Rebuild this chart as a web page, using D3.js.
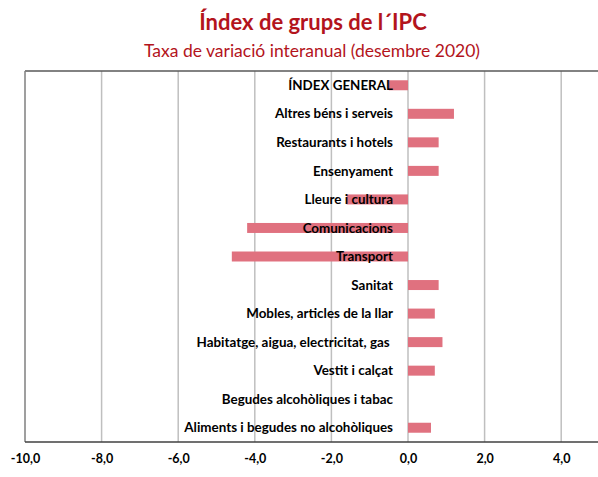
<!DOCTYPE html>
<html>
<head>
<meta charset="utf-8">
<script src="https://cdn.jsdelivr.net/npm/d3@7"></script>
<style>
  body { margin: 0; background: #fff; }
  text { font-family: Lato, "Open Sans", sans-serif; }
</style>
</head>
<body>
<svg id="chart" width="598" height="477"></svg>
<script>
// categories, top to bottom as in the chart
var categories = [
  "ÍNDEX GENERAL",
  "Altres béns i serveis",
  "Restaurants i hotels",
  "Ensenyament",
  "Lleure i cultura",
  "Comunicacions",
  "Transport",
  "Sanitat",
  "Mobles, articles de la llar",
  "Habitatge, aigua, electricitat, gas\u00a0",
  "Vestit i calçat",
  "Begudes alcohòliques i tabac",
  "Aliments i begudes no alcohòliques"
];
var values = [-0.5, 1.2, 0.8, 0.8, -1.6, -4.2, -4.6, 0.8, 0.7, 0.9, 0.7, 0.0, 0.6];
var tickValues = [-10, -8, -6, -4, -2, 0, 2, 4];

var title = "Índex de grups de l´IPC";
var subtitle = "Taxa de variació interanual (desembre 2020)";

var svg = d3.select("#chart");

var plotLeft = 25, plotRight = 599.5, plotTop = 71, plotBottom = 442;

var x = d3.scaleLinear().domain([-10, 5]).range([plotLeft, plotRight]);
var y = d3.scaleBand().domain(categories).range([plotTop, plotBottom])
  .paddingInner(0.65).paddingOuter(0.325);

var fmt = d3.formatLocale({decimal: ",", thousands: ".", grouping: [3], currency: ["", "€"], minus: "-"}).format(".1f");

// titles
svg.append("text")
  .attr("x", 313).attr("y", 30)
  .attr("text-anchor", "middle")
  .attr("fill", "#b3141c")
  .style("font-size", "22px")
  .style("font-weight", "bold")
  .text(title);

svg.append("text")
  .attr("x", 312).attr("y", 57)
  .attr("text-anchor", "middle")
  .attr("fill", "#b3141c")
  .style("font-size", "17.5px")
  .text(subtitle);

// vertical gridlines
svg.append("g")
  .selectAll("line")
  .data(tickValues.filter(function(d) { return d !== -10; }))
  .join("line")
  .attr("x1", function(d) { return x(d); })
  .attr("x2", function(d) { return x(d); })
  .attr("y1", plotTop).attr("y2", plotBottom)
  .attr("stroke", "#bfbfbf")
  .attr("stroke-width", 1.5);

// bars
svg.append("g")
  .selectAll("rect")
  .data(values)
  .join("rect")
  .attr("x", function(d) { return x(Math.min(0, d)); })
  .attr("y", function(d, i) { return y(categories[i]); })
  .attr("width", function(d) { return Math.abs(x(d) - x(0)); })
  .attr("height", y.bandwidth())
  .attr("fill", "#e0717f");

// category labels drawn over the bars
svg.append("g")
  .selectAll("text")
  .data(categories)
  .join("text")
  .attr("x", 393)
  .attr("y", function(d) { return y(d) + y.bandwidth() / 2; })
  .attr("dy", "0.35em")
  .attr("text-anchor", "end")
  .attr("fill", "#000")
  .style("font-size", "13.4px")
  .style("font-weight", "bold")
  .text(function(d) { return d; });

// frame: top border, left axis, bottom axis
svg.append("line")
  .attr("x1", plotLeft).attr("x2", 598).attr("y1", plotTop).attr("y2", plotTop)
  .attr("stroke", "#595959").attr("stroke-width", 1.5);
svg.append("line")
  .attr("x1", plotLeft).attr("x2", plotLeft).attr("y1", plotTop).attr("y2", plotBottom)
  .attr("stroke", "#7f7f7f").attr("stroke-width", 1.5);

var xAxis = svg.append("g")
  .attr("transform", "translate(0," + plotBottom + ")")
  .call(d3.axisBottom(x).tickValues(tickValues).tickFormat(fmt).tickSize(0).tickPadding(12));
xAxis.select(".domain").attr("stroke", "#404040").attr("stroke-width", 1.5)
  .attr("d", "M" + plotLeft + ",0H598");
xAxis.selectAll("text")
  .attr("fill", "#000")
  .style("font-family", "Lato, sans-serif")
  .style("font-size", "12.5px")
  .style("font-weight", "bold");
</script>
</body>
</html>
